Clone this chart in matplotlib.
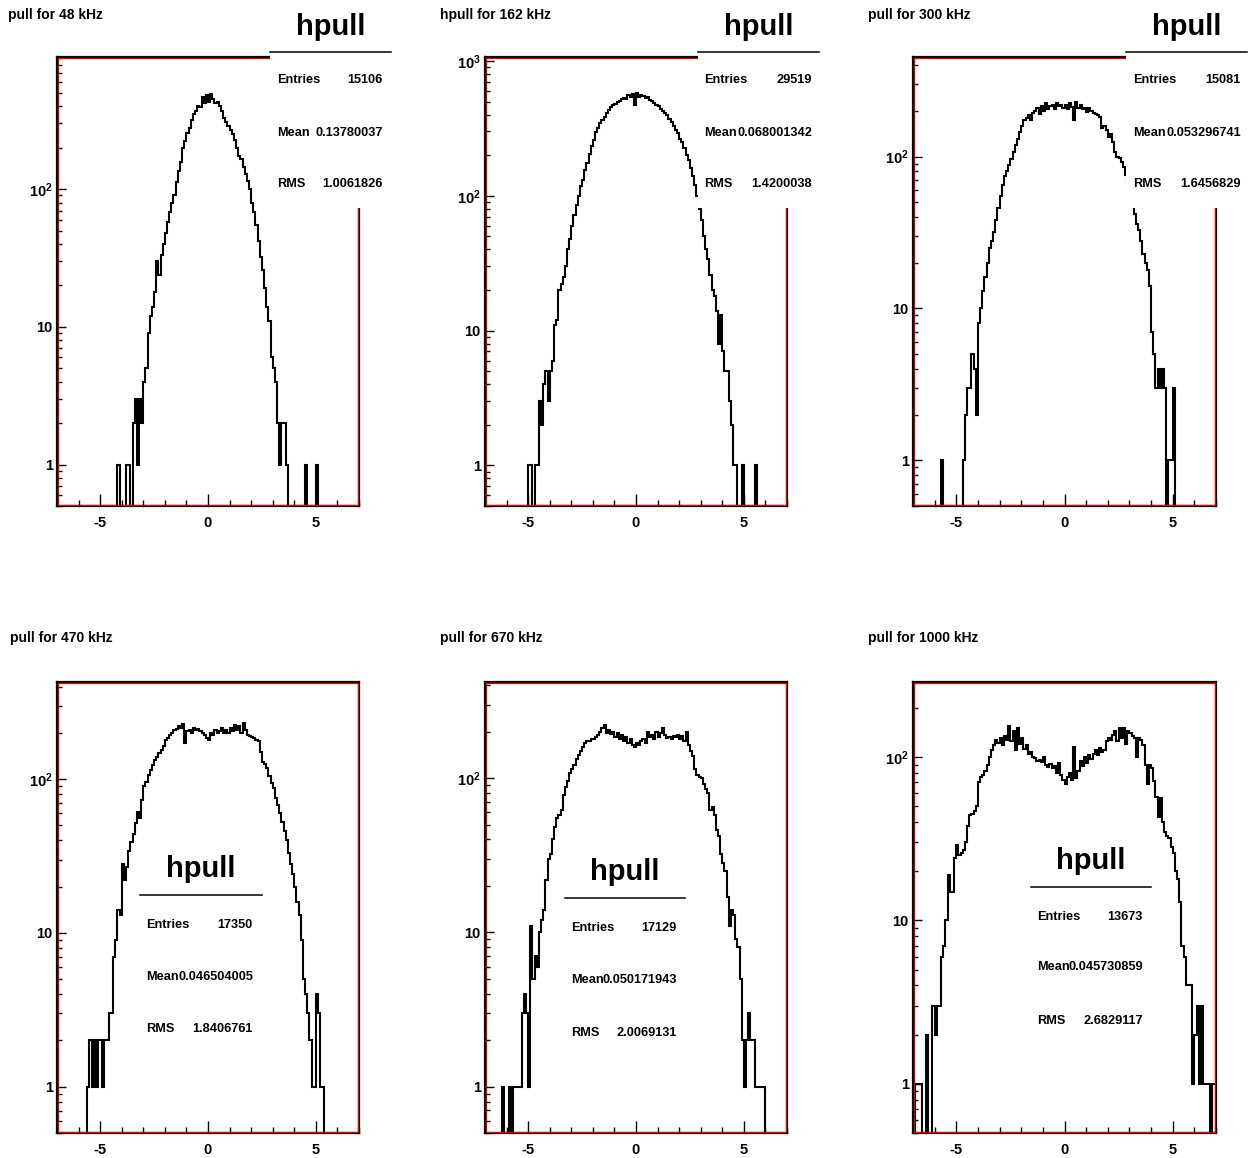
import numpy as np
import matplotlib
matplotlib.use("Agg")
import matplotlib.pyplot as plt
from matplotlib.patches import Rectangle
from matplotlib.lines import Line2D
from matplotlib.ticker import FixedLocator, FixedFormatter, LogLocator, MultipleLocator, NullFormatter

# ---------------- data ----------------
titles = ["pull for 48 kHz", "hpull for 162 kHz", "pull for 300 kHz",
          "pull for 470 kHz", "pull for 670 kHz", "pull for 1000 kHz"]
hist_name = "hpull"
entries = ["15106", "29519", "15081", "17350", "17129", "13673"]
means = ["0.13780037", "0.068001342", "0.053296741", "0.046504005", "0.050171943", "0.045730859"]
rms = ["1.0061826", "1.4200038", "1.6456829", "1.8406761", "2.0069131", "2.6829117"]

bin_width = 0.1
starts = [-4.2, -5.0, -5.7, -5.6, -6.2, -6.9]

counts_48 = [1, 0, 0, 0, 1, 1, 0, 2, 3, 1, 3, 2, 4, 5, 9, 12, 14, 18, 30, 24,
             33, 40, 48, 58, 68, 80, 90, 112, 135, 158, 200, 222, 255, 280, 320, 350, 372, 400, 395, 470,
             420, 480, 430, 490, 450, 420, 430, 400, 370, 330, 310, 290, 268, 250, 228, 200, 175, 165, 145, 128,
             115, 100, 80, 68, 55, 42, 32, 26, 19, 14, 11, 6, 5, 4, 2, 1, 2, 2, 1, 0,
             0, 0, 0, 0, 0, 0, 0, 1, 0, 0, 0, 0, 1]
counts_162 = [1, 1, 0, 1, 1, 3, 2, 4, 5, 3, 5, 6, 11, 12, 20, 22, 25, 30, 40, 48,
              60, 72, 85, 100, 118, 130, 155, 175, 205, 235, 260, 295, 320, 345, 365, 385, 410, 430, 455, 470,
              480, 500, 505, 520, 535, 520, 555, 540, 570, 470, 575, 540, 560, 545, 530, 540, 515, 505, 490, 470,
              460, 440, 425, 410, 395, 370, 350, 330, 310, 290, 265, 250, 225, 200, 185, 160, 140, 120, 100, 80,
              66, 50, 40, 34, 26, 20, 18, 14, 8, 13, 7, 5, 5, 3, 2, 1, 1, 0, 0, 1,
              0, 0, 0, 0, 0, 1]
counts_300 = [1, 0, 0, 0, 0, 0, 0, 0, 0, 0, 1, 2, 3, 3, 5, 4, 2, 8, 10, 13,
              16, 20, 25, 28, 32, 38, 46, 55, 65, 74, 80, 88, 96, 108, 120, 130, 145, 160, 175, 180,
              188, 175, 195, 200, 210, 190, 215, 200, 225, 205, 215, 220, 205, 225, 215, 218, 210, 220, 205, 225,
              212, 175, 228, 210, 220, 205, 210, 198, 208, 200, 195, 192, 188, 182, 155, 160, 150, 135, 140, 125,
              108, 100, 98, 92, 85, 76, 68, 58, 48, 42, 36, 33, 28, 23, 20, 18, 14, 7, 5, 3,
              4, 3, 4, 3, 0, 1, 1, 3, 0]
counts_470 = [1, 2, 1, 2, 1, 2, 2, 1, 2, 2, 3, 3, 7, 9, 14, 13, 28, 22, 27, 34,
              39, 44, 52, 61, 56, 73, 90, 96, 107, 115, 123, 133, 140, 148, 155, 165, 180, 185, 195, 200,
              209, 212, 220, 215, 228, 172, 205, 210, 200, 215, 208, 212, 205, 200, 195, 185, 180, 200, 195, 210,
              200, 205, 215, 198, 210, 200, 215, 205, 225, 210, 220, 200, 230, 210, 195, 190, 188, 185, 180, 176,
              150, 130, 125, 118, 104, 95, 88, 75, 68, 60, 53, 46, 40, 33, 28, 24, 20, 16, 13, 9,
              5, 4, 3, 2, 1, 1, 4, 3, 1, 1]
counts_670 = [1, 0, 0, 1, 0, 1, 1, 1, 1, 3, 4, 3, 1, 11, 5, 7, 6, 10, 12, 14,
              22, 30, 32, 40, 48, 55, 58, 62, 78, 88, 96, 108, 115, 122, 133, 141, 150, 160, 168, 173,
              175, 178, 180, 185, 190, 200, 211, 222, 195, 205, 192, 200, 185, 195, 180, 190, 175, 185, 170, 180,
              165, 160, 170, 165, 175, 180, 170, 200, 185, 190, 178, 200, 185, 195, 211, 190, 183, 185, 180, 188,
              185, 190, 180, 188, 175, 200, 165, 150, 140, 115, 104, 102, 100, 92, 85, 80, 62, 65, 58, 46,
              42, 32, 28, 25, 17, 11, 14, 13, 9, 8, 5, 2, 1, 2, 3, 2, 2, 1, 1, 1,
              1, 1]
counts_1000 = [1, 1, 1, 0, 0, 2, 0, 0, 3, 2, 3, 3, 6, 7, 10, 19, 15, 15, 24, 29,
               25, 26, 27, 30, 38, 44, 45, 47, 50, 70, 75, 78, 82, 90, 100, 110, 119, 127, 122, 130,
               118, 135, 128, 154, 125, 145, 110, 150, 120, 130, 112, 118, 105, 108, 100, 98, 95, 96, 93, 100,
               90, 87, 91, 86, 88, 80, 92, 78, 72, 68, 75, 80, 72, 116, 74, 82, 95, 88, 100, 92,
               103, 97, 105, 110, 103, 113, 108, 111, 125, 130, 128, 136, 145, 125, 150, 130, 150, 120, 145, 140,
               135, 130, 100, 130, 128, 119, 90, 68, 90, 86, 71, 57, 43, 56, 40, 35, 33, 32, 28, 26,
               20, 18, 13, 7, 6, 4, 4, 4, 1, 2, 3, 1, 3, 1, 1, 1, 0, 1, 1]
all_counts = [counts_48, counts_162, counts_300, counts_470, counts_670, counts_1000]

x_range = (-7.0, 7.0)
y_min = 0.5
y_max = [912, 1070, 453, 428, 420, 288]

# ---------------- layout (pixels) ----------------
W, H = 1259, 1158
plt.rcParams["font.family"] = ["Liberation Sans", "DejaVu Sans"]
plt.rcParams["font.weight"] = "bold"
plt.rcParams["axes.unicode_minus"] = False
plt.rcParams["mathtext.fontset"] = "custom"
plt.rcParams["mathtext.rm"] = "Liberation Sans:bold"
plt.rcParams["mathtext.bf"] = "Liberation Sans:bold"
plt.rcParams["mathtext.it"] = "Liberation Sans:bold"

fig = plt.figure(figsize=(W / 100, H / 100), dpi=100)
fig.patch.set_facecolor("white")

def fx(px):
    return px / W

def fy(py):
    return 1 - py / H

# axes frames: left, top, right, bottom
frames = [(57, 57, 359, 506), (485, 57, 787, 506), (913, 57, 1216, 506),
          (57, 682, 359, 1133), (485, 682, 787, 1133), (913, 682, 1216, 1133)]
title_pos = [(8, 18.5), (440, 18.5), (868, 18.5), (10, 642), (440, 642), (868, 642)]
# stats boxes: x0, x1, ytop, ybottom, hpull baseline, line y, label x, value right x, row baselines
stats = [
    (270, 391, 0, 208, 35, 52, 277, 383, (83, 136, 187)),
    (698, 819, 0, 208, 35, 52, 704, 812, (83, 136, 187)),
    (1126, 1247, 0, 208, 35, 52, 1133, 1241, (83, 136, 187)),
    (140, 262, 845, 1045, 877, 895, 146, 253, (928, 980, 1032)),
    (565, 685, 848, 1048, 880, 898, 571, 677, (931, 983, 1036)),
    (1031, 1151, 838, 1040, 869, 887, 1037, 1143, (920, 970, 1024)),
]

red = "#e00000"

for i in range(6):
    l, t, r, b = frames[i]
    ax = fig.add_axes([fx(l), fy(b), (r - l) / W, (b - t) / H])
    counts = np.array(all_counts[i], dtype=float)
    edges = starts[i] + bin_width * np.arange(len(counts) + 1)
    vals = np.where(counts > 0, counts, 1e-3)
    ax.stairs(vals, edges, baseline=1e-3, color="black", lw=1.5, zorder=2)
    ax.set_yscale("log")
    ax.set_xlim(*x_range)
    ax.set_ylim(y_min, y_max[i])

    # ticks
    ax.xaxis.set_major_locator(FixedLocator([-5, 0, 5]))
    ax.xaxis.set_major_formatter(FixedFormatter(["-5", "0", "5"]))
    ax.xaxis.set_minor_locator(MultipleLocator(1))
    decs = [d for d in [1, 10, 100, 1000] if d <= y_max[i]]
    lab = {1: "1", 10: "10", 100: r"$10^{2}$", 1000: r"$10^{3}$"}
    ax.yaxis.set_major_locator(FixedLocator(decs))
    ax.yaxis.set_major_formatter(FixedFormatter([lab[d] for d in decs]))
    ax.yaxis.set_minor_locator(LogLocator(base=10, subs=np.arange(2, 10), numticks=30))
    ax.yaxis.set_minor_formatter(NullFormatter())
    ax.tick_params(axis="both", which="both", direction="in", top=False, right=False,
                   width=1.0, color="black", labelsize=10.5)
    ax.tick_params(axis="x", which="major", length=9, pad=7.5)
    ax.tick_params(axis="x", which="minor", length=4.5)
    ax.tick_params(axis="y", which="major", length=6.5, pad=3)
    ax.tick_params(axis="y", which="minor", length=3.5)
    for lbl in ax.get_xticklabels() + ax.get_yticklabels():
        lbl.set_fontweight("bold")

    for s in ax.spines.values():
        s.set_color("black")
        s.set_linewidth(1.6)
        s.set_zorder(4)
    dx = 1.4 / (r - l)
    dy = 1.4 / (b - t)
    ax.add_patch(Rectangle((dx, dy), 1 - 2 * dx, 1 - 2 * dy, transform=ax.transAxes,
                           fill=False, ec=red, lw=0.9, zorder=5, clip_on=False))

    # title
    tx, ty = title_pos[i]
    fig.text(fx(tx), fy(ty), titles[i], fontsize=10, fontweight="bold", ha="left", va="baseline")

    # stats box
    x0, x1, yt, yb, hb, ly, lx, vx, rows = stats[i]
    fig.add_artist(Rectangle((fx(x0), fy(yb)), (x1 - x0) / W, (yb - yt) / H,
                             transform=fig.transFigure, fc="white", ec="none", zorder=5))
    fig.text(fx((x0 + x1) / 2), fy(hb), hist_name, fontsize=21, fontweight="bold",
             ha="center", va="baseline", zorder=6)
    fig.add_artist(Line2D([fx(x0), fx(x1)], [fy(ly), fy(ly)], transform=fig.transFigure,
                          color="black", lw=1.1, zorder=6))
    for name, val, yy in zip(["Entries", "Mean", "RMS"], [entries[i], means[i], rms[i]], rows):
        fig.text(fx(lx), fy(yy), name, fontsize=9.2, fontweight="bold", ha="left", va="baseline", zorder=6)
        fig.text(fx(vx), fy(yy), val, fontsize=9.2, fontweight="bold", ha="right", va="baseline", zorder=6)

fig.savefig("out.png", dpi=100, facecolor="white")
